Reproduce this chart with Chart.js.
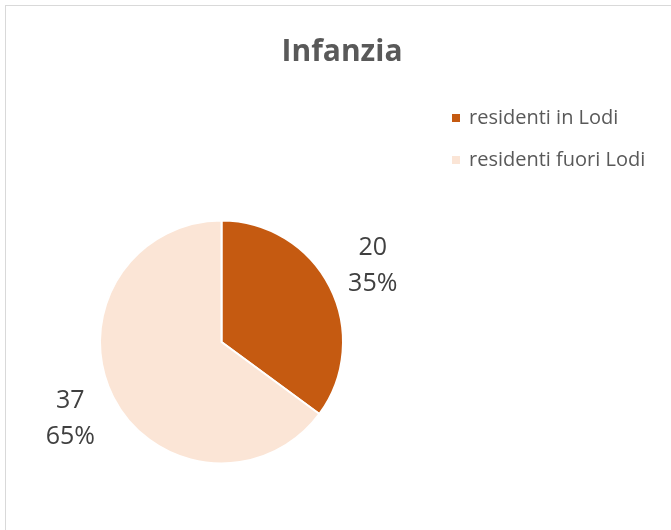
<!DOCTYPE html>
<html>
<head>
<meta charset="utf-8">
<script src="https://cdn.jsdelivr.net/npm/chart.js@4"></script>
<style>
  html, body { margin: 0; padding: 0; background: #fff; }
  #wrap { width: 671px; height: 530px; position: relative; }
</style>
</head>
<body>
<div id="wrap"><canvas id="pieChart" width="671" height="530"></canvas></div>
<script>
// Dati del grafico
const chartTitle = 'Infanzia';
const categories = ['residenti in Lodi', 'residenti fuori Lodi'];
const values = [20, 37];
const colors = ['#C55A11', '#FBE5D6'];

const FONT = '"Open Sans", sans-serif';
const TEXT_COLOR = '#595959';

// Cornice, titolo, legenda ed etichette dati
const decorPlugin = {
    id: 'decor',
    beforeDraw(chart) {
        const c = chart.ctx;
        c.save();
        c.fillStyle = '#ffffff';
        c.fillRect(0, 0, chart.width, chart.height);
        c.strokeStyle = '#d9d9d9';
        c.lineWidth = 1;
        c.strokeRect(5.5, 5.5, chart.width + 10, chart.height + 10);
        c.restore();
    },
    afterDraw(chart) {
        const c = chart.ctx;
        c.save();

        // Titolo
        c.fillStyle = TEXT_COLOR;
        c.font = 'bold 30px ' + FONT;
        c.textAlign = 'center';
        c.textBaseline = 'middle';
        c.fillText(chartTitle, 342, 52);

        // Legenda
        c.font = '20px ' + FONT;
        c.textAlign = 'left';
        categories.forEach((label, i) => {
            const y = 118 + i * 42;
            c.fillStyle = colors[i];
            c.fillRect(452, y - 4, 8, 8);
            c.fillStyle = TEXT_COLOR;
            c.fillText(label, 469, y);
        });

        // Etichette dati
        const total = values.reduce((a, b) => a + b, 0);
        const meta = chart.getDatasetMeta(0);
        c.font = '25px ' + FONT;
        c.fillStyle = '#404040';
        c.textAlign = 'center';
        meta.data.forEach((arc, i) => {
            const p = arc.getProps(['x', 'y', 'startAngle', 'endAngle', 'outerRadius'], true);
            const mid = (p.startAngle + p.endAngle) / 2;
            const r = p.outerRadius + 48;
            const x = p.x + Math.cos(mid) * r;
            const y = p.y + Math.sin(mid) * r;
            const pct = Math.round(values[i] / total * 100) + '%';
            c.fillText(String(values[i]), x, y - 18);
            c.fillText(pct, x, y + 18);
        });

        c.restore();
    }
};

new Chart(document.getElementById('pieChart').getContext('2d'), {
    type: 'pie',
    data: {
        labels: categories,
        datasets: [{
            data: values,
            backgroundColor: colors,
            borderColor: '#ffffff',
            borderWidth: 2
        }]
    },
    options: {
        responsive: false,
        animation: false,
        layout: {
            padding: { left: 99, right: 327, top: 219.5, bottom: 65.5 }
        },
        plugins: {
            legend: { display: false },
            title: { display: false },
            tooltip: { enabled: false }
        }
    },
    plugins: [decorPlugin]
});
</script>
</body>
</html>
